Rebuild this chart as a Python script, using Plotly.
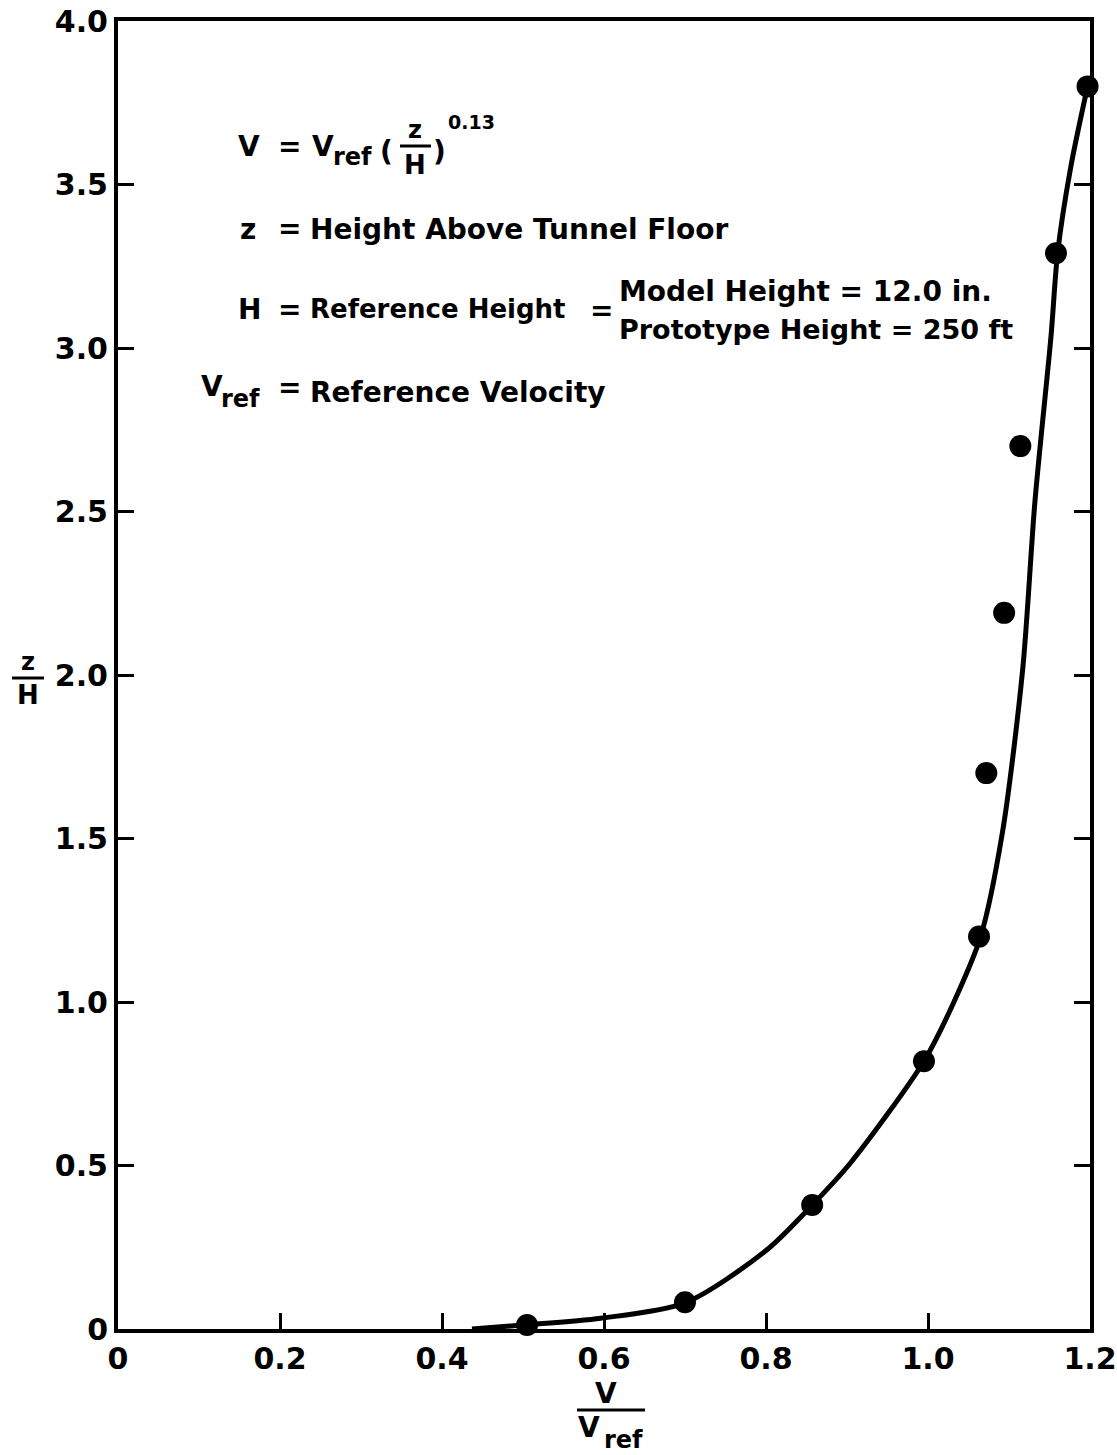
import plotly.graph_objects as go

# measured points (V/Vref, z/H)
pt_v = [0.505, 0.700, 0.857, 0.995, 1.063, 1.072, 1.094, 1.114, 1.158, 1.197]
pt_z = [0.012, 0.082, 0.379, 0.819, 1.200, 1.700, 2.190, 2.700, 3.290, 3.800]

# fitted profile curve
cv_v = [0.437, 0.500, 0.596, 0.700, 0.800, 0.857, 0.905, 0.995, 1.032, 1.065,
        1.092, 1.117, 1.132, 1.152, 1.160, 1.176, 1.197]
cv_z = [0.000, 0.012, 0.033, 0.080, 0.240, 0.379, 0.510, 0.819, 1.000, 1.200,
        1.520, 2.020, 2.530, 3.040, 3.290, 3.550, 3.800]

x_ticks = [0, 0.2, 0.4, 0.6, 0.8, 1.0, 1.2]
x_tick_text = ["0", "0.2", "0.4", "0.6", "0.8", "1.0", "1.2"]
y_ticks = [0, 0.5, 1.0, 1.5, 2.0, 2.5, 3.0, 3.5, 4.0]
y_tick_text = ["0", "0.5", "1.0", "1.5", "2.0", "2.5", "3.0", "3.5", "4.0"]

W, H = 1117, 1455
L, R, T, B = 118, 27, 21, 126
PW, PH = W - L - R, H - T - B


def px(x):
    return (x - L) / PW


def py(y):
    return (H - B - y) / PH


FONT = "DejaVu Sans"
BLACK = "#000000"

fig = go.Figure()
fig.add_trace(go.Scatter(x=cv_v, y=cv_z, mode="lines",
                         line=dict(color=BLACK, width=5, shape="spline", smoothing=0.8),
                         cliponaxis=False, showlegend=False, hoverinfo="skip"))
fig.add_trace(go.Scatter(x=pt_v, y=pt_z, mode="markers",
                         marker=dict(color=BLACK, size=22, line=dict(width=0)),
                         cliponaxis=False, showlegend=False))

ann = []


def text(x, y, s, size=28, xanchor="left", yanchor="middle"):
    ann.append(dict(x=px(x), y=py(y), xref="paper", yref="paper", text=s,
                    showarrow=False, xanchor=xanchor, yanchor=yanchor,
                    font=dict(family=FONT, size=size, color=BLACK)))


# formula line
text(236, 146, "<b>V</b>")
text(276, 146, "<b>=</b>")
text(310, 146, "<b>V</b>")
text(331, 157, "<b>ref</b>", size=24)
text(378, 152, "<b>(</b>")
text(415, 130, "<b>z</b>", size=24, xanchor="center")
text(415, 165, "<b>H</b>", size=26, xanchor="center")
text(431, 152, "<b>)</b>")
text(446, 122, "<b>0.13</b>", size=19)

# z line
text(238, 230, "<b>z</b>")
text(276, 229, "<b>=</b>")
text(308, 230, "<b>Height Above Tunnel Floor</b>")

# H line
text(236, 309, "<b>H</b>")
text(276, 309, "<b>=</b>")
text(308, 309, "<b>Reference Height</b>", size=26)
text(588, 311, "<b>=</b>")
text(617, 292, "<b>Model Height = 12.0 in.</b>")
text(617, 329, "<b>Prototype Height = 250 ft</b>", size=27)

# Vref line
text(199, 386, "<b>V</b>")
text(219, 399, "<b>ref</b>", size=24)
text(276, 387, "<b>=</b>")
text(308, 392, "<b>Reference Velocity</b>")

# axis titles as fractions
text(28, 662, "<b>z</b>", size=24, xanchor="center")
text(28, 695, "<b>H</b>", size=26, xanchor="center")
text(606, 1393, "<b>V</b>", size=28, xanchor="center")
text(589, 1427, "<b>V</b>", size=28, xanchor="center")
text(602, 1440, "<b>ref</b>", size=24, xanchor="left")

shapes = [
    dict(type="line", xref="paper", yref="paper", x0=px(400), x1=px(431),
         y0=py(146), y1=py(146), line=dict(color=BLACK, width=3)),
    dict(type="line", xref="paper", yref="paper", x0=px(12), x1=px(44),
         y0=py(678), y1=py(678), line=dict(color=BLACK, width=3)),
    dict(type="line", xref="paper", yref="paper", x0=px(577), x1=px(645),
         y0=py(1410), y1=py(1410), line=dict(color=BLACK, width=3)),
]

axis_common = dict(showgrid=False, zeroline=False, showline=True, linecolor=BLACK,
                   linewidth=4, ticks="inside", ticklen=16, tickwidth=3,
                   tickcolor=BLACK, automargin=False,
                   tickfont=dict(family=FONT, size=30, color=BLACK))

fig.update_layout(
    width=W, height=H,
    margin=dict(l=L, r=R, t=T, b=B, pad=0),
    paper_bgcolor="white", plot_bgcolor="white",
    annotations=ann, shapes=shapes,
    xaxis=dict(range=[0, 1.2], tickvals=x_ticks, ticktext=[f"<b>{t}</b>" for t in x_tick_text],
               mirror=True, ticklabelstandoff=0, **axis_common),
    yaxis=dict(range=[0, 4.0], tickvals=y_ticks, ticktext=[f"<b>{t}</b>" for t in y_tick_text],
               mirror="ticks", ticklabelstandoff=0, **axis_common),
)

fig.write_html("out.html")
